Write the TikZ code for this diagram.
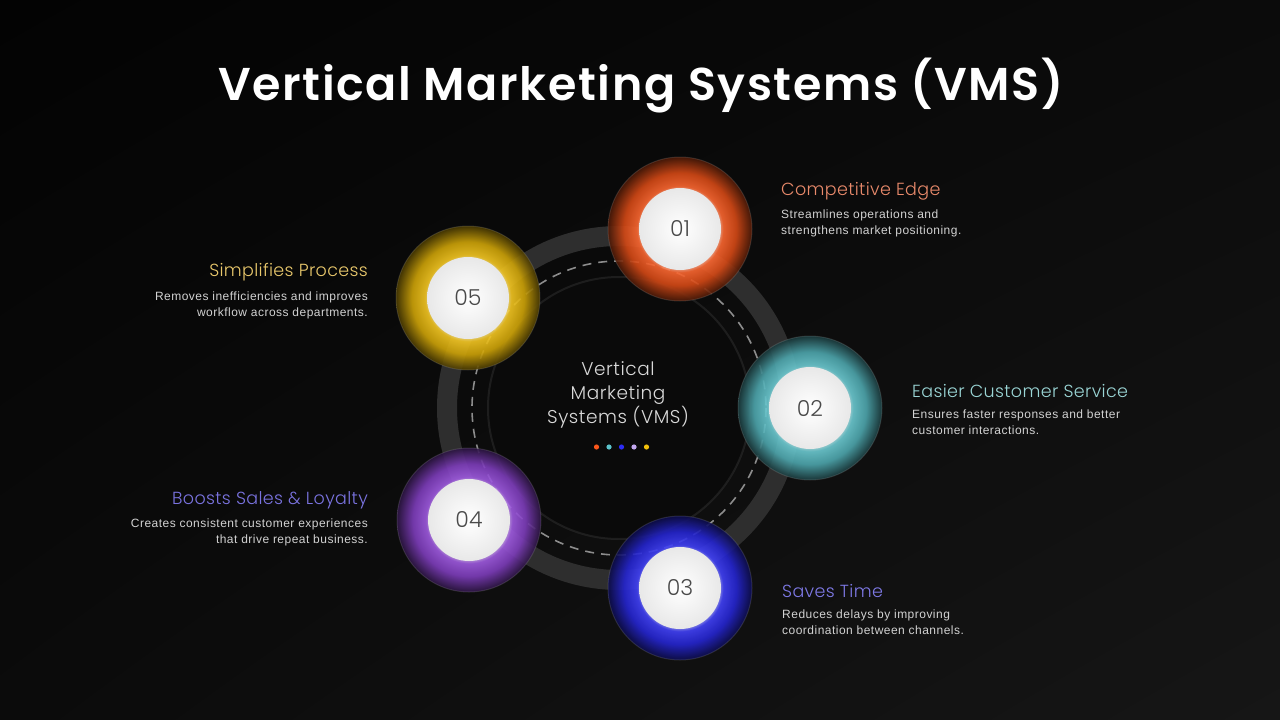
\documentclass[tikz,border=0pt]{standalone}
\usepackage{fontspec}
\setmainfont{Liberation Sans}[LetterSpace=4]
\newfontfamily\titlefont{Poppins SemiBold}[LetterSpace=3.5]
\newfontfamily\headfont{Poppins Light}[LetterSpace=2]
\newfontfamily\numfont{Poppins Light}
\newfontfamily\hubfont{Poppins Light}[LetterSpace=3]
\usepackage{xcolor}
\usepackage{tikz}
\usetikzlibrary{positioning,shadings}
\definecolor{bgA}{HTML}{030303}
\definecolor{bgB}{HTML}{0B0B0B}
\definecolor{bgC}{HTML}{161616}
\definecolor{ringgray}{HTML}{2E2E2E}
\definecolor{core}{HTML}{0A0A0A}
\definecolor{cOne}{HTML}{FA561A}
\definecolor{cTwo}{HTML}{5BC3CB}
\definecolor{cThree}{HTML}{2C2CF5}
\definecolor{cFour}{HTML}{9448DC}
\definecolor{cFive}{HTML}{F2C00A}
\definecolor{hOne}{HTML}{E98A6B}
\definecolor{hTwo}{HTML}{9AD5D5}
\definecolor{hThree}{HTML}{7E79E6}
\definecolor{hFour}{HTML}{7A73E0}
\definecolor{hFive}{HTML}{E9C86C}
\definecolor{dotFour}{HTML}{C3A8F0}
\definecolor{desctext}{HTML}{D2D2D2}
\definecolor{numtext}{HTML}{4A4A4A}
\newcommand{\glowshading}[2]{%
  \pgfdeclareradialshading{#1}{\pgfpoint{0bp}{0bp}}{%
    color(0bp)=(#2!60!white); color(14bp)=(#2!60!white);
    color(15bp)=(#2!90!white); color(19.5bp)=(#2!85!black);
    color(25bp)=(#2!30!black); color(50bp)=(#2!30!black)}}
\glowshading{glowOne}{cOne}
\glowshading{glowTwo}{cTwo}
\glowshading{glowThree}{cThree}
\glowshading{glowFour}{cFour}
\glowshading{glowFive}{cFive}

\begin{document}
\begin{tikzpicture}[
  x=1pt,y=-1pt,
  every node/.style={inner sep=0pt},
  title/.style={font=\titlefont\fontsize{46}{52}\selectfont,text=white},
  halo/.style={fill opacity=0.9,draw=white,draw opacity=0.12,line width=1pt},
  disc/.style={circle,minimum size=82pt,inner color=white,outer color=black!9,
    font=\numfont\fontsize{22}{24}\selectfont,text=numtext},
  head/.style={font=\headfont\fontsize{17.5}{20}\selectfont,text=#1},
  desc/.style={font=\fontsize{12}{16}\selectfont,text=desctext},
  centre/.style={font=\hubfont\fontsize{18.5}{24}\selectfont,text=white!85!black,align=center}
]
\useasboundingbox (0,0) rectangle (1280,720);
% background
\shade[upper left=bgA,upper right=bgB,lower left=bgB,lower right=bgC] (0,0) rectangle (1280,720);

\node[title] (title) at (641,86) {Vertical Marketing Systems (VMS)};

% ring
\coordinate (ctr) at (619,408);
\draw[ringgray,line width=20pt] (ctr) circle[radius=172];
\draw[white!55!black,line width=1.6pt,dash pattern=on 9pt off 7pt] (ctr) circle[radius=147];
\fill[core] (ctr) circle[radius=131];
\draw[white,opacity=0.08,line width=2pt] (ctr) circle[radius=131];
\node[centre] (hub) at (618,395) {Vertical\\Marketing\\Systems (VMS)};
\foreach \c [count=\i] in {cOne,cTwo,cThree,dotFour,cFive}
  \fill[\c] ({584+12.5*\i},447) circle[radius=2.6];

% steps
\coordinate (p1) at (680,229);
\coordinate (p2) at (810,408);
\coordinate (p3) at (680,588);
\coordinate (p4) at (469,520);
\coordinate (p5) at (468,298);
\shade[halo,shading=glowOne] (p1) circle[radius=72];
\shade[halo,shading=glowTwo] (p2) circle[radius=72];
\shade[halo,shading=glowThree] (p3) circle[radius=72];
\shade[halo,shading=glowFour] (p4) circle[radius=72];
\shade[halo,shading=glowFive] (p5) circle[radius=72];
\node[disc] (n1) at (p1) {01};
\node[disc] (n2) at (p2) {02};
\node[disc] (n3) at (p3) {03};
\node[disc] (n4) at (p4) {04};
\node[disc] (n5) at (p5) {05};

% labels
\node[head=hOne,anchor=west] (h1) at (781,191) {Competitive Edge};
\node[desc,anchor=north west,align=left] (d1) at (781,210) {Streamlines operations and\\strengthens market positioning.};
\node[head=hTwo,anchor=west] (h2) at (912,391) {Easier Customer Service};
\node[desc,anchor=north west,align=left] (d2) at (912,410) {Ensures faster responses and better\\customer interactions.};
\node[head=hThree,anchor=west] (h3) at (782,591) {Saves Time};
\node[desc,anchor=north west,align=left] (d3) at (782,610) {Reduces delays by improving\\coordination between channels.};
\node[head=hFour,anchor=east] (h4) at (368,500) {Boosts Sales \& Loyalty};
\node[desc,anchor=north east,align=right] (d4) at (368,519) {Creates consistent customer experiences\\that drive repeat business.};
\node[head=hFive,anchor=east] (h5) at (368,272) {Simplifies Process};
\node[desc,anchor=north east,align=right] (d5) at (368,292) {Removes inefficiencies and improves\\workflow across departments.};
\end{tikzpicture}
\end{document}
